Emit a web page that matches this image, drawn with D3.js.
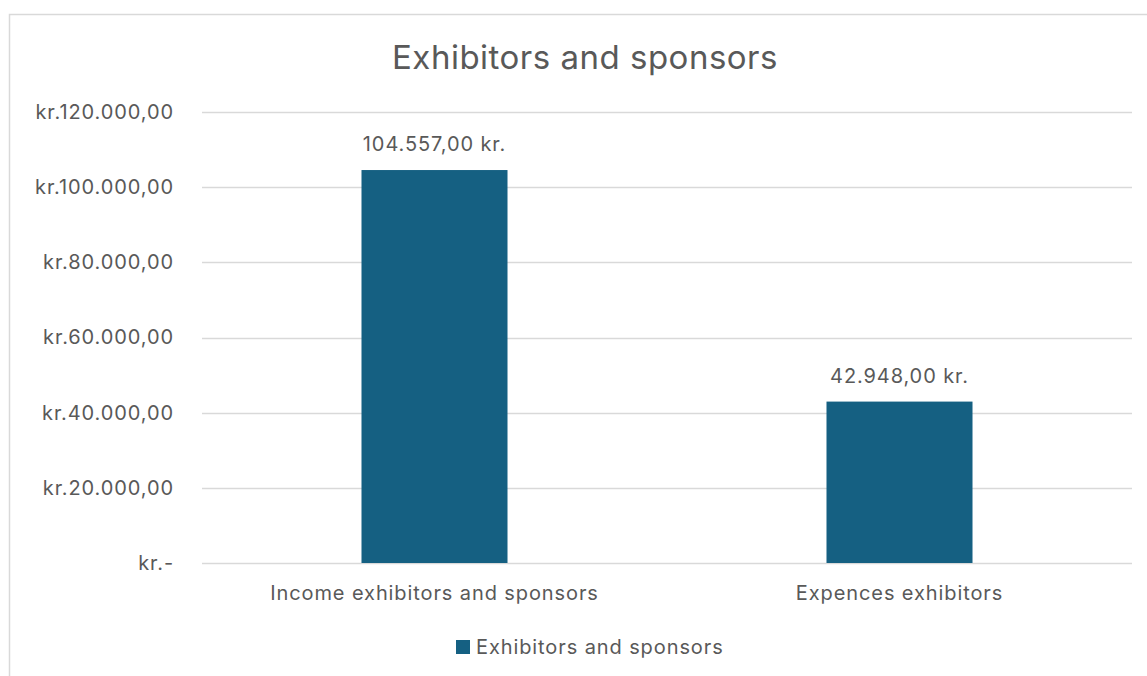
<!DOCTYPE html>
<html>
<head>
<meta charset="utf-8">
<script src="https://cdn.jsdelivr.net/npm/d3@7"></script>
<style>
  body { margin: 0; background: #fff; }
  text { font-family: Inter, "Open Sans", sans-serif; fill: #595959; letter-spacing: 0.9px; }
</style>
</head>
<body>
<div id="chart"></div>
<script>
// Canvas size and plot box
const width = 1147;
const height = 676;
const margin = {left: 202, right: 15, top: 112, bottom: 113};

// Chart data
const categories = ['Income exhibitors and sponsors', 'Expences exhibitors'];
const values = [104557, 42948];
const valueLabels = ['104.557,00 kr.', '42.948,00 kr.'];
const yTicks = [0, 20000, 40000, 60000, 80000, 100000, 120000];
const yTickLabels = ['kr.-', 'kr.20.000,00', 'kr.40.000,00', 'kr.60.000,00', 'kr.80.000,00', 'kr.100.000,00', 'kr.120.000,00'];
const seriesName = 'Exhibitors and sponsors';
const title = 'Exhibitors and sponsors';
const barColor = '#156082';

const svg = d3.select("#chart")
  .append("svg")
  .attr("width", width)
  .attr("height", height);

// chart area border (left and top visible)
svg.append("rect")
  .attr("x", 9.5)
  .attr("y", 14.5)
  .attr("width", width + 20)
  .attr("height", height + 20)
  .attr("fill", "none")
  .attr("stroke", "#d9d9d9")
  .attr("stroke-width", 1.5);

// y scale
let yScale = d3.scaleLinear()
  .domain([0, 120000])
  .range([height - margin.bottom, margin.top]);

// x scale
let xScale = d3.scaleBand()
  .domain(categories)
  .range([margin.left, width - margin.right])
  .paddingInner(0.686)
  .paddingOuter(0.343);

// gridlines
svg.append("g")
  .selectAll("line")
  .data(yTicks)
  .enter()
  .append("line")
    .attr("x1", margin.left)
    .attr("x2", width - margin.right)
    .attr("y1", d => Math.round(yScale(d)) + 0.5)
    .attr("y2", d => Math.round(yScale(d)) + 0.5)
    .attr("stroke", "#d9d9d9")
    .attr("stroke-width", 1.5);

// y axis labels
const yAxis = svg.append("g")
  .attr("transform", `translate(${margin.left - 28}, 0)`)
  .call(d3.axisLeft(yScale)
    .tickValues(yTicks)
    .tickSize(0)
    .tickPadding(0)
    .tickFormat((d, i) => yTickLabels[i]))
  .attr("font-size", "20px");
yAxis.select(".domain").remove();
yAxis.selectAll("text")
  .attr("font-family", null)
  .attr("fill", "#595959");

// bars
svg.selectAll(".bar")
  .data(values)
  .enter()
  .append("rect")
    .attr("class", "bar")
    .attr("x", (d, i) => xScale(categories[i]))
    .attr("y", d => yScale(d))
    .attr("width", xScale.bandwidth())
    .attr("height", d => yScale(0) - yScale(d))
    .attr("fill", barColor);

// data labels
svg.selectAll(".value-label")
  .data(values)
  .enter()
  .append("text")
    .attr("class", "value-label")
    .attr("x", (d, i) => xScale(categories[i]) + xScale.bandwidth() / 2)
    .attr("y", d => yScale(d) - 19)
    .attr("text-anchor", "middle")
    .attr("font-size", "20px")
    .text((d, i) => valueLabels[i]);

// x axis labels
const xAxis = svg.append("g")
  .attr("transform", `translate(0, ${height - margin.bottom})`)
  .call(d3.axisBottom(xScale).tickSize(0).tickPadding(23))
  .attr("font-size", "20px");
xAxis.select(".domain").remove();
xAxis.selectAll("text")
  .attr("font-family", null)
  .attr("fill", "#595959");

// title
svg.append("text")
  .attr("x", 585)
  .attr("y", 69)
  .attr("text-anchor", "middle")
  .attr("font-size", "33px")
  .style("letter-spacing", "0.5px")
  .text(title);

// legend
const legend = svg.append("g")
  .attr("transform", "translate(456, 640)");
legend.append("rect")
  .attr("width", 14)
  .attr("height", 14)
  .attr("fill", barColor);
legend.append("text")
  .attr("x", 20)
  .attr("y", 14)
  .attr("font-size", "20px")
  .text(seriesName);
</script>
</body>
</html>
